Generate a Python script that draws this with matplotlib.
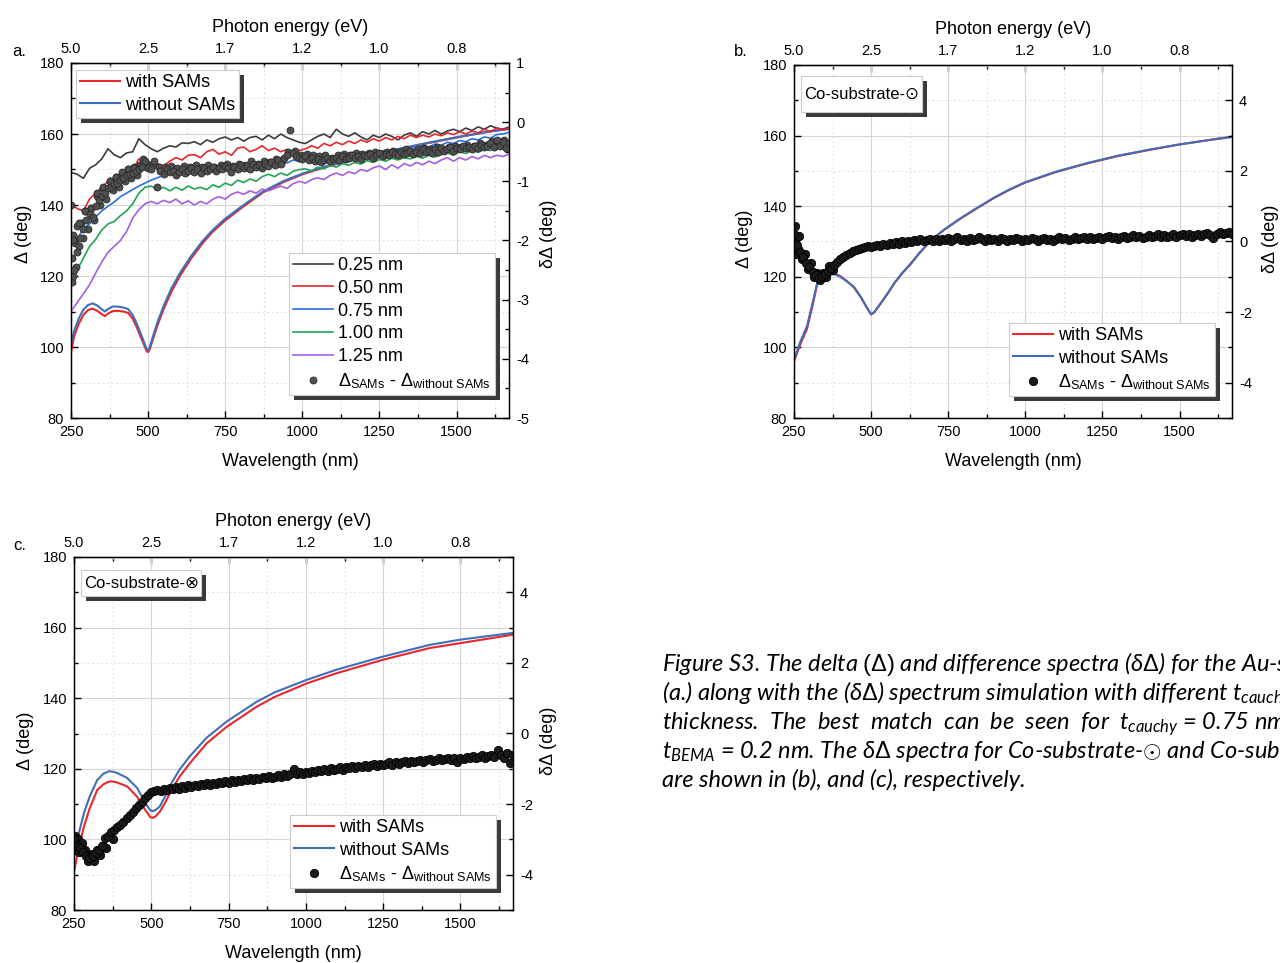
import numpy as np
import matplotlib
matplotlib.use("Agg")
import matplotlib.pyplot as plt
from matplotlib import patheffects as pe
from matplotlib.patches import Rectangle
from matplotlib.ticker import MultipleLocator

plt.rcParams["font.family"] = ["Liberation Sans", "DejaVu Sans"]
plt.rcParams["mathtext.fontset"] = "custom"
plt.rcParams["mathtext.rm"] = "Liberation Sans"
plt.rcParams["mathtext.sf"] = "Liberation Sans"
plt.rcParams["mathtext.it"] = "Lato:italic"
plt.rcParams["axes.unicode_minus"] = False

W, H = 1280, 963

# ---- axis tick data
wl_ticks = [250, 500, 750, 1000, 1250, 1500]
energy_labels = ["5.0", "2.5", "1.7", "1.2", "1.0", "0.8"]

# ---- panel a: simulated Delta with / without SAMs (deg)
wl_a = [250, 260, 275, 290, 305, 320, 335, 350, 360, 370,
        385, 400, 420, 435, 450, 463, 475, 485, 495, 500,
        505, 515, 530, 550, 575, 603, 640, 678, 710, 748,
        800, 872, 940, 1002, 1088, 1200, 1300, 1400, 1500, 1600, 1670]
with_a = [98.5, 103, 106.5, 109, 110.4, 110.8, 110.2, 109.2, 108.7, 109.4,
          110.1, 110.2, 110, 109.6, 108, 105.6, 103, 101, 98.8, 98.6,
          99.3, 102, 106, 110.6, 115.5, 120, 125, 129.4, 132.5, 135.5,
          139, 143.5, 146.5, 148.7, 151, 153.5, 155.5, 157.3, 159, 160.6, 161.5]
without_a = [101, 104.5, 108, 110.5, 111.8, 112.3, 111.7, 110.6, 110, 110.7,
             111.4, 111.4, 111.1, 110.7, 109, 106.6, 104, 101.8, 99.4, 99.1,
             99.9, 102.8, 106.9, 111.5, 116.4, 120.8, 125.7, 130, 133, 136,
             139.4, 143.8, 146.8, 148.9, 151.2, 153.6, 155.6, 157.4, 159.1, 160.6, 161.4]

# ---- panel a: simulated dDelta for different t_cauchy (deg), 20 nm steps
wl_thick = np.arange(250, 1671, 20)
thick_labels = ["0.25 nm", "0.50 nm", "0.75 nm", "1.00 nm", "1.25 nm"]
thick_colors = ["#3c3c3c", "#e8262b", "#2c6fdc", "#22a455", "#a45de6"]
thick_025 = [-0.85, -0.88, -0.95, -0.78, -0.72, -0.62, -0.45, -0.55, -0.6, -0.52,
             -0.5, -0.28, -0.38, -0.45, -0.5, -0.44, -0.4, -0.42, -0.35, -0.36,
             -0.33, -0.38, -0.3, -0.34, -0.28, -0.25, -0.3, -0.26, -0.32, -0.26,
             -0.24, -0.3, -0.22, -0.28, -0.2, -0.26, -0.3, -0.34, -0.36, -0.3,
             -0.24, -0.2, -0.26, -0.12, -0.2, -0.24, -0.18, -0.25, -0.3, -0.22,
             -0.26, -0.2, -0.24, -0.3, -0.22, -0.18, -0.24, -0.16, -0.2, -0.14,
             -0.2, -0.15, -0.12, -0.16, -0.1, -0.14, -0.08, -0.12, -0.06, -0.1,
             -0.12, -0.08]
thick_050 = [-1.38, -1.46, -1.5, -1.3, -1.2, -1.1, -1.0, -1.04, -0.98, -0.88,
             -0.8, -0.62, -0.72, -0.76, -0.7, -0.74, -0.66, -0.6, -0.64, -0.56,
             -0.55, -0.6, -0.5, -0.46, -0.54, -0.5, -0.56, -0.44, -0.42, -0.5,
             -0.46, -0.4, -0.48, -0.44, -0.5, -0.46, -0.52, -0.48, -0.45, -0.4,
             -0.44, -0.36, -0.4, -0.34, -0.38, -0.32, -0.36, -0.3, -0.34, -0.28,
             -0.32, -0.26, -0.3, -0.24, -0.28, -0.22, -0.26, -0.22, -0.25, -0.2,
             -0.23, -0.18, -0.21, -0.16, -0.2, -0.15, -0.18, -0.12, -0.16, -0.1,
             -0.13, -0.1]
thick_075 = [-2.0, -1.98, -1.8, -1.72, -1.6, -1.5, -1.42, -1.35, -1.26, -1.2,
             -1.14, -1.08, -1.03, -0.98, -0.94, -0.9, -0.87, -0.85, -0.82, -0.85,
             -0.8, -0.83, -0.78, -0.81, -0.77, -0.8, -0.75, -0.78, -0.74, -0.77,
             -0.72, -0.74, -0.68, -0.71, -0.66, -0.69, -0.64, -0.66, -0.61, -0.64,
             -0.59, -0.62, -0.58, -0.6, -0.55, -0.58, -0.53, -0.56, -0.5, -0.53,
             -0.5, -0.47, -0.5, -0.45, -0.47, -0.42, -0.44, -0.4, -0.42, -0.37,
             -0.39, -0.34, -0.36, -0.31, -0.33, -0.28, -0.3, -0.25, -0.27, -0.21,
             -0.2, -0.17]
thick_100 = [-2.6, -2.5, -2.3, -2.1, -1.98, -1.82, -1.72, -1.68, -1.58, -1.5,
             -1.38, -1.2, -1.1, -1.08, -1.14, -1.1, -1.16, -1.1, -1.15, -1.08,
             -1.13, -1.1, -1.14, -1.06, -1.1, -1.03, -1.07, -0.98, -1.02, -0.96,
             -1.0, -0.92, -0.88, -0.92, -0.86, -0.9, -0.83, -0.8, -0.79, -0.82,
             -0.76, -0.79, -0.73, -0.76, -0.7, -0.73, -0.68, -0.71, -0.65, -0.68,
             -0.63, -0.66, -0.61, -0.64, -0.6, -0.62, -0.58, -0.61, -0.56, -0.59,
             -0.55, -0.52, -0.56, -0.5, -0.53, -0.48, -0.51, -0.46, -0.48, -0.43,
             -0.45, -0.4]
thick_125 = [-3.2, -3.05, -2.9, -2.75, -2.55, -2.36, -2.2, -2.1, -2.0, -1.85,
             -1.62, -1.48, -1.38, -1.34, -1.38, -1.32, -1.36, -1.3, -1.38, -1.33,
             -1.4, -1.34, -1.38, -1.3, -1.26, -1.3, -1.22, -1.18, -1.22, -1.16,
             -1.2, -1.13, -1.16, -1.12, -1.08, -1.12, -1.04, -1.0, -1.03, -0.97,
             -0.94, -0.97, -0.9, -0.86, -0.9, -0.84, -0.87, -0.8, -0.83, -0.77,
             -0.74, -0.8, -0.72, -0.78, -0.7, -0.74, -0.68, -0.72, -0.66, -0.7,
             -0.64, -0.6, -0.66, -0.6, -0.64, -0.58, -0.62, -0.56, -0.6, -0.56,
             -0.58, -0.54]
thick_values = [thick_025, thick_050, thick_075, thick_100, thick_125]

# ---- measured dDelta = Delta_SAMs - Delta_without (deg), 10 nm steps
wl_diff = np.arange(250, 1671, 10)
diff_a = [-1.4, -2.5, -2.2, -1.95, -1.8, -1.65, -1.55, -1.6, -1.42, -1.32,
          -1.25, -1.2, -1.12, -1.1, -1.04, -1.02, -0.98, -0.94, -0.9, -0.88,
          -0.86, -0.82, -0.8, -0.76, -0.66, -0.78, -0.8, -0.66, -1.1, -0.82,
          -0.88, -0.8, -0.85, -0.82, -0.9, -0.84, -0.8, -0.86, -0.83, -0.78,
          -0.84, -0.8, -0.86, -0.78, -0.82, -0.8, -0.76, -0.82, -0.78, -0.8,
          -0.74, -0.78, -0.84, -0.76, -0.8, -0.72, -0.78, -0.74, -0.8, -0.7,
          -0.76, -0.72, -0.78, -0.7, -0.74, -0.68, -0.72, -0.64, -0.7, -0.6,
          -0.55, -0.14, -0.52, -0.58, -0.6, -0.62, -0.58, -0.64, -0.6, -0.66,
          -0.62, -0.68, -0.64, -0.6, -0.66, -0.62, -0.6, -0.64, -0.58, -0.62,
          -0.6, -0.56, -0.6, -0.58, -0.62, -0.56, -0.58, -0.54, -0.6, -0.56,
          -0.52, -0.58, -0.54, -0.56, -0.5, -0.54, -0.56, -0.5, -0.54, -0.52,
          -0.48, -0.54, -0.5, -0.52, -0.46, -0.5, -0.48, -0.52, -0.46, -0.5,
          -0.44, -0.48, -0.46, -0.42, -0.48, -0.44, -0.46, -0.4, -0.44, -0.42,
          -0.46, -0.4, -0.44, -0.38, -0.42, -0.4, -0.36, -0.42, -0.3, -0.4,
          -0.34, -0.44, -0.36]
# second, interleaved set of points (upper edge of the band)
wl_diff_mid = np.arange(255, 1656, 20)
diff_a_mid = [-2.0, -1.7, -1.5, -1.45, -1.2, -1.1, -1.0, -0.92, -0.85, -0.8,
              -0.78, -0.72, -0.7, -0.72, -0.76, -0.76, -0.74, -0.78, -0.74, -0.76,
              -0.72, -0.76, -0.72, -0.76, -0.72, -0.7, -0.74, -0.7, -0.72, -0.66,
              -0.7, -0.66, -0.68, -0.62, -0.64, -0.5, -0.48, -0.55, -0.54, -0.56,
              -0.58, -0.56, -0.6, -0.56, -0.54, -0.56, -0.52, -0.54, -0.52, -0.5,
              -0.54, -0.5, -0.48, -0.5, -0.46, -0.5, -0.46, -0.44, -0.46, -0.42,
              -0.46, -0.42, -0.4, -0.42, -0.38, -0.4, -0.36, -0.38, -0.32, -0.36,
              -0.3]
diff_a_x2 = [252, 254, 256, 258, 262, 265, 268, 275, 282, 288, 295, 305, 315, 325, 335,
             345, 355, 365, 375, 385, 395, 405, 415, 425, 435, 445, 455, 465, 475, 485]
diff_a_y2 = [-2.7, -2.3, -1.9, -2.6, -2.05, -2.45, -1.75, -2.1, -1.7, -1.95, -1.5, -1.8, -1.45, -1.65, -1.25,
             -1.4, -1.12, -1.3, -1.0, -1.15, -0.92, -1.1, -0.88, -1.0, -0.8, -0.95, -0.76, -0.9, -0.72, -0.62]

diff_b = [0.2, -0.1, -0.3, -0.45, -0.62, -0.72, -0.86, -0.95, -1.02, -0.98,
          -0.92, -0.84, -0.74, -0.66, -0.58, -0.5, -0.44, -0.38, -0.32, -0.28,
          -0.24, -0.22, -0.18, -0.16, -0.12, -0.15, -0.12, -0.1, -0.13, -0.07,
          -0.1, -0.04, -0.08, -0.02, -0.06, 0.0, -0.04, 0.02, -0.02, 0.04,
          0.0, 0.06, 0.0, 0.04, 0.08, 0.02, 0.06, 0.0, 0.08, 0.04,
          0.1, 0.02, 0.06, 0.12, 0.04, 0.08, 0.02, 0.1, 0.04, 0.08,
          0.14, 0.06, 0.02, 0.1, 0.04, 0.08, 0.02, 0.1, 0.06, 0.02,
          0.08, 0.04, 0.1, 0.06, 0.02, 0.08, 0.04, 0.1, 0.06, 0.0,
          0.06, 0.1, 0.04, 0.08, 0.02, 0.08, 0.12, 0.06, 0.1, 0.04,
          0.08, 0.12, 0.06, 0.1, 0.14, 0.08, 0.12, 0.06, 0.1, 0.14,
          0.08, 0.12, 0.16, 0.1, 0.14, 0.08, 0.12, 0.16, 0.1, 0.14,
          0.18, 0.12, 0.16, 0.1, 0.14, 0.18, 0.12, 0.16, 0.2, 0.14,
          0.18, 0.12, 0.16, 0.2, 0.14, 0.18, 0.22, 0.16, 0.2, 0.14,
          0.18, 0.22, 0.16, 0.2, 0.24, 0.18, 0.1, 0.22, 0.26, 0.2,
          0.24, 0.28, 0.22]
diff_b_x2 = [252, 255, 258, 262, 266, 275, 285, 295, 305, 315, 325, 335, 345, 355, 365, 375]
diff_b_y2 = [0.45, -0.35, 0.1, -0.2, 0.15, -0.5, -0.35, -0.78, -0.6, -1.0, -0.88, -1.08, -0.88, -1.0, -0.7, -0.8]

diff_c = [-3.0, -3.18, -3.25, -3.36, -3.46, -3.52, -3.48, -3.38, -3.3, -3.18,
          -2.95, -2.9, -2.8, -2.74, -2.66, -2.6, -2.5, -2.4, -2.3, -2.22,
          -2.12, -2.02, -1.94, -1.82, -1.74, -1.67, -1.64, -1.6, -1.63, -1.57,
          -1.6, -1.55, -1.58, -1.52, -1.56, -1.5, -1.53, -1.47, -1.51, -1.46,
          -1.5, -1.44, -1.47, -1.41, -1.45, -1.4, -1.43, -1.37, -1.41, -1.35,
          -1.39, -1.33, -1.37, -1.31, -1.35, -1.3, -1.33, -1.27, -1.31, -1.25,
          -1.29, -1.23, -1.27, -1.21, -1.25, -1.22, -1.18, -1.24, -1.16, -1.2,
          -1.14, -1.0, -1.16, -1.1, -1.14, -1.08, -1.12, -1.05, -1.09, -1.03,
          -1.07, -1.01, -1.05, -0.99, -1.03, -1.0, -0.96, -1.02, -0.94, -0.99,
          -0.93, -0.97, -0.91, -0.95, -0.89, -0.94, -0.9, -0.86, -0.92, -0.85,
          -0.9, -0.86, -0.82, -0.88, -0.8, -0.86, -0.82, -0.78, -0.84, -0.77,
          -0.82, -0.78, -0.74, -0.8, -0.76, -0.72, -0.78, -0.74, -0.7, -0.76,
          -0.72, -0.68, -0.74, -0.7, -0.8, -0.68, -0.72, -0.66, -0.7, -0.64,
          -0.7, -0.66, -0.62, -0.68, -0.64, -0.6, -0.66, -0.46, -0.62, -0.7,
          -0.56, -0.84, -0.6]
diff_c_x2 = [252, 255, 258, 262, 266, 275, 285, 295, 305, 315, 325, 335, 345, 355, 365, 375]
diff_c_y2 = [-2.9, -3.3, -3.1, -3.0, -3.35, -3.1, -3.3, -3.6, -3.4, -3.6, -3.3, -3.45, -3.2, -3.25, -2.9, -3.0]

# ---- panel b: Co-substrate (dot)
wl_b = [250, 270, 292, 310, 326, 345, 365, 380, 400, 420,
        444, 466, 485, 500, 510, 531, 555, 575, 600, 629,
        655, 683, 710, 737, 790, 845, 900, 950, 1000, 1100,
        1200, 1300, 1400, 1500, 1600, 1670]
without_b = [96.4, 101.5, 106, 112.5, 118.5, 119.9, 120.5, 120.8, 120, 118.8,
             117.2, 114.4, 111.5, 109.4, 110, 112.5, 115.5, 118.2, 121, 123.8,
             126.6, 129.3, 131.5, 133.4, 136.6, 139.6, 142.5, 144.8, 146.8, 149.8,
             152.2, 154.3, 156, 157.5, 158.8, 159.6]
with_b = [96.0, 100.8, 105.2, 111.8, 118.2, 119.7, 120.6, 121.0, 120.2, 118.9,
          117.0, 114.3, 111.4, 109.3, 109.9, 112.4, 115.4, 118.1, 120.9, 123.7,
          126.5, 129.2, 131.4, 133.3, 136.5, 139.5, 142.4, 144.7, 146.7, 149.7,
          152.1, 154.2, 155.9, 157.5, 158.8, 159.7]

# ---- panel c: Co-substrate (cross)
wl_c = [250, 265, 282, 300, 325, 345, 363, 375, 390, 422,
        454, 481, 497, 505, 515, 528, 545, 560, 590, 625,
        679, 744, 841, 900, 1003, 1100, 1250, 1400, 1500, 1670]
without_c = [95.1, 101.5, 107.4, 112, 116.8, 118.6, 119.3, 119.2, 118.8, 117.4,
             114.6, 110.3, 108.2, 108, 108.4, 109.4, 112.2, 115.1, 119.6, 123.6,
             128.8, 133.4, 139, 141.7, 145.2, 148.1, 151.8, 155.1, 156.6, 158.5]
with_c = [90.9, 97.5, 103.6, 108.6, 114, 115.6, 116.4, 116.4, 116.1, 115,
          112.1, 108.3, 106.3, 106.1, 106.6, 107.9, 110.4, 113.1, 117.6, 121.6,
          127.2, 131.9, 137.6, 140.4, 144.2, 147.1, 150.9, 154.2, 155.6, 158]

RED = "#e8262b"
BLUE = "#3f6fb8"
diff_label = r"$\Delta_{\mathrm{SAMs}}$ - $\Delta_{\mathrm{without\ SAMs}}$"

fig = plt.figure(figsize=(W / 100, H / 100), dpi=100)


def frect(l, t, r, b):
    return [l / W, 1 - b / H, (r - l) / W, (b - t) / H]


def shadow(offset=3.6):
    return [pe.withSimplePatchShadow(offset=(offset, -offset), shadow_rgbFace="#3a3a3a", alpha=1.0)]


def make_panel(box, rlim, rmajor, rminor, ylab_y, lx, rx):
    ax = fig.add_axes(frect(*box))
    ax.set_xlim(250, 1670)
    ax.set_ylim(80, 180)
    ax.xaxis.set_major_locator(MultipleLocator(250))
    ax.xaxis.set_minor_locator(MultipleLocator(125))
    ax.yaxis.set_major_locator(MultipleLocator(20))
    ax.yaxis.set_minor_locator(MultipleLocator(10))
    ax.grid(which="major", color="#d6d6d6", lw=0.8)
    ax.grid(which="minor", color="#dedede", lw=0.8, ls=(0, (1.5, 2.5)))
    ax.set_axisbelow(True)
    ax.tick_params(which="both", direction="in", labelsize=10.5, top=False, right=False, width=1)
    ax.tick_params(which="major", length=5, pad=5)
    ax.tick_params(which="minor", length=3)
    for s in ax.spines.values():
        s.set_linewidth(1.0)
    ax.set_xlabel("Wavelength (nm)", fontsize=13)
    ax.xaxis.set_label_coords(0.5, -0.098)
    ax.set_ylabel("Δ (deg)", fontsize=13)
    ax.yaxis.set_label_coords(lx, ylab_y)

    top = ax.secondary_xaxis("top")
    top.set_xticks(wl_ticks, energy_labels)
    top.xaxis.set_minor_locator(MultipleLocator(125))
    top.tick_params(which="both", direction="in", labelsize=10.5, width=1, color="black")
    top.tick_params(which="major", length=5, pad=5)
    top.tick_params(which="minor", length=3)
    top.set_xlabel("Photon energy (eV)", fontsize=13, labelpad=7)

    ax2 = ax.twinx()
    ax2.set_ylim(*rlim)
    ax2.yaxis.set_major_locator(MultipleLocator(rmajor))
    ax2.yaxis.set_minor_locator(MultipleLocator(rminor))
    ax2.tick_params(which="both", direction="in", labelsize=10.5, width=1)
    ax2.tick_params(which="major", length=5, pad=5)
    ax2.tick_params(which="minor", length=3)
    ax2.set_ylabel("δΔ (deg)", fontsize=13)
    ax2.yaxis.set_label_coords(rx, ylab_y)
    return ax, ax2


def legend(handles, labels, left, top, **kw):
    leg = fig.legend(handles, labels, loc="upper left",
                     bbox_to_anchor=(left / W, 1 - top / H), bbox_transform=fig.transFigure,
                     fontsize=13, frameon=True, fancybox=False, framealpha=1,
                     borderaxespad=0, numpoints=1, handlelength=2.2, handletextpad=0.3,
                     borderpad=0.22, labelspacing=0.32, **kw)
    fr = leg.get_frame()
    fr.set_edgecolor("#cccccc")
    fr.set_linewidth(0.8)
    fr.set_path_effects(shadow())
    return leg


def label_box(text, l, t, r, b):
    rect = Rectangle((l / W, 1 - b / H), (r - l) / W, (b - t) / H, transform=fig.transFigure,
                     facecolor="white", edgecolor="#cccccc", lw=0.8, zorder=4)
    rect.set_path_effects(shadow())
    fig.add_artist(rect)
    fig.text((l + 3) / W, 1 - (t + b) / 2 / H, text, fontsize=12, va="center", ha="left", zorder=5)


# ================= panel a =================
ax, ax2 = make_panel((71, 63, 509, 418), (-5, 1), 1, 0.5, 0.52, -0.089, 1.071)
l_with, = ax.plot(wl_a, with_a, color=RED, lw=1.5)
l_without, = ax.plot(wl_a, without_a, color=BLUE, lw=1.5)
thick_lines = []
for vals, c in zip(thick_values, thick_colors):
    ln, = ax2.plot(wl_thick, vals, color=c, lw=1.2)
    thick_lines.append(ln)
dot_style = dict(ms=5, mfc="#505050", mec="#2a2a2a", mew=0.6, ls="none", marker="o")
ax2.plot(diff_a_x2, diff_a_y2, **dot_style)
ax2.plot(wl_diff_mid, diff_a_mid, **dot_style)
dots_a, = ax2.plot(wl_diff, diff_a, **dot_style)
legend([l_with, l_without], ["with SAMs", "without SAMs"], 76, 70)
legend(thick_lines + [dots_a], thick_labels + [diff_label], 289, 253)
fig.text(12 / W, 1 - 52 / H, "a.", fontsize=12, va="center")

# ================= panel b =================
bx, bx2 = make_panel((794, 65, 1232, 418), (-5, 5), 2, 1, 0.507, -0.094, 1.068)
lb_with, = bx.plot(wl_b, with_b, color=RED, lw=1.5)
lb_without, = bx.plot(wl_b, without_b, color=BLUE, lw=1.5)
bx2.plot(diff_b_x2, diff_b_y2, "o", ms=6, mfc="#1a1a1a", mec="black", mew=0.6)
dots_b, = bx2.plot(wl_diff, diff_b, "o", ms=6, mfc="#1a1a1a", mec="black", mew=0.6)
legend([lb_with, lb_without, dots_b], ["with SAMs", "without SAMs", diff_label], 1009, 323)
label_box("Co-substrate-⊙", 801, 76, 922, 112)
fig.text(734 / W, 1 - 52 / H, "b.", fontsize=12, va="center")

# ================= panel c =================
cx, cx2 = make_panel((74, 557, 513, 910), (-5, 5), 2, 1, 0.48, -0.091, 1.061)
lc_with, = cx.plot(wl_c, with_c, color=RED, lw=1.5)
lc_without, = cx.plot(wl_c, without_c, color=BLUE, lw=1.5)
cx2.plot(diff_c_x2, diff_c_y2, "o", ms=6, mfc="#1a1a1a", mec="black", mew=0.6)
dots_c, = cx2.plot(wl_diff, diff_c, "o", ms=6, mfc="#1a1a1a", mec="black", mew=0.6)
legend([lc_with, lc_without, dots_c], ["with SAMs", "without SAMs", diff_label], 290, 815)
label_box("Co-substrate-⊗", 81, 570, 201, 596)
fig.text(13 / W, 1 - 545 / H, "c.", fontsize=12, va="center")

# ================= caption (runs past the right edge, as in the source page) =================
caption = [
    r"Figure S3. The delta $(\Delta)$ and difference spectra ($\delta\Delta$) for the Au-substrate",
    r"(a.) along with the ($\delta\Delta$) spectrum simulation with different $t_{cauchy}$",
    r"thickness.  The  best  match  can  be  seen  for  $t_{cauchy}$ = 0.75 nm and",
    r"$t_{BEMA}$ = 0.2 nm. The $\delta\Delta$ spectra for Co-substrate-$\odot$ and Co-substrate-$\otimes$",
    r"are shown in (b), and (c), respectively.",
]
for i, line in enumerate(caption):
    fig.text(662 / W, 1 - (671 + 29 * i) / H, line, fontsize=17, family="Lato",
             style="italic", va="baseline", ha="left")

fig.savefig("out.png", dpi=100)
